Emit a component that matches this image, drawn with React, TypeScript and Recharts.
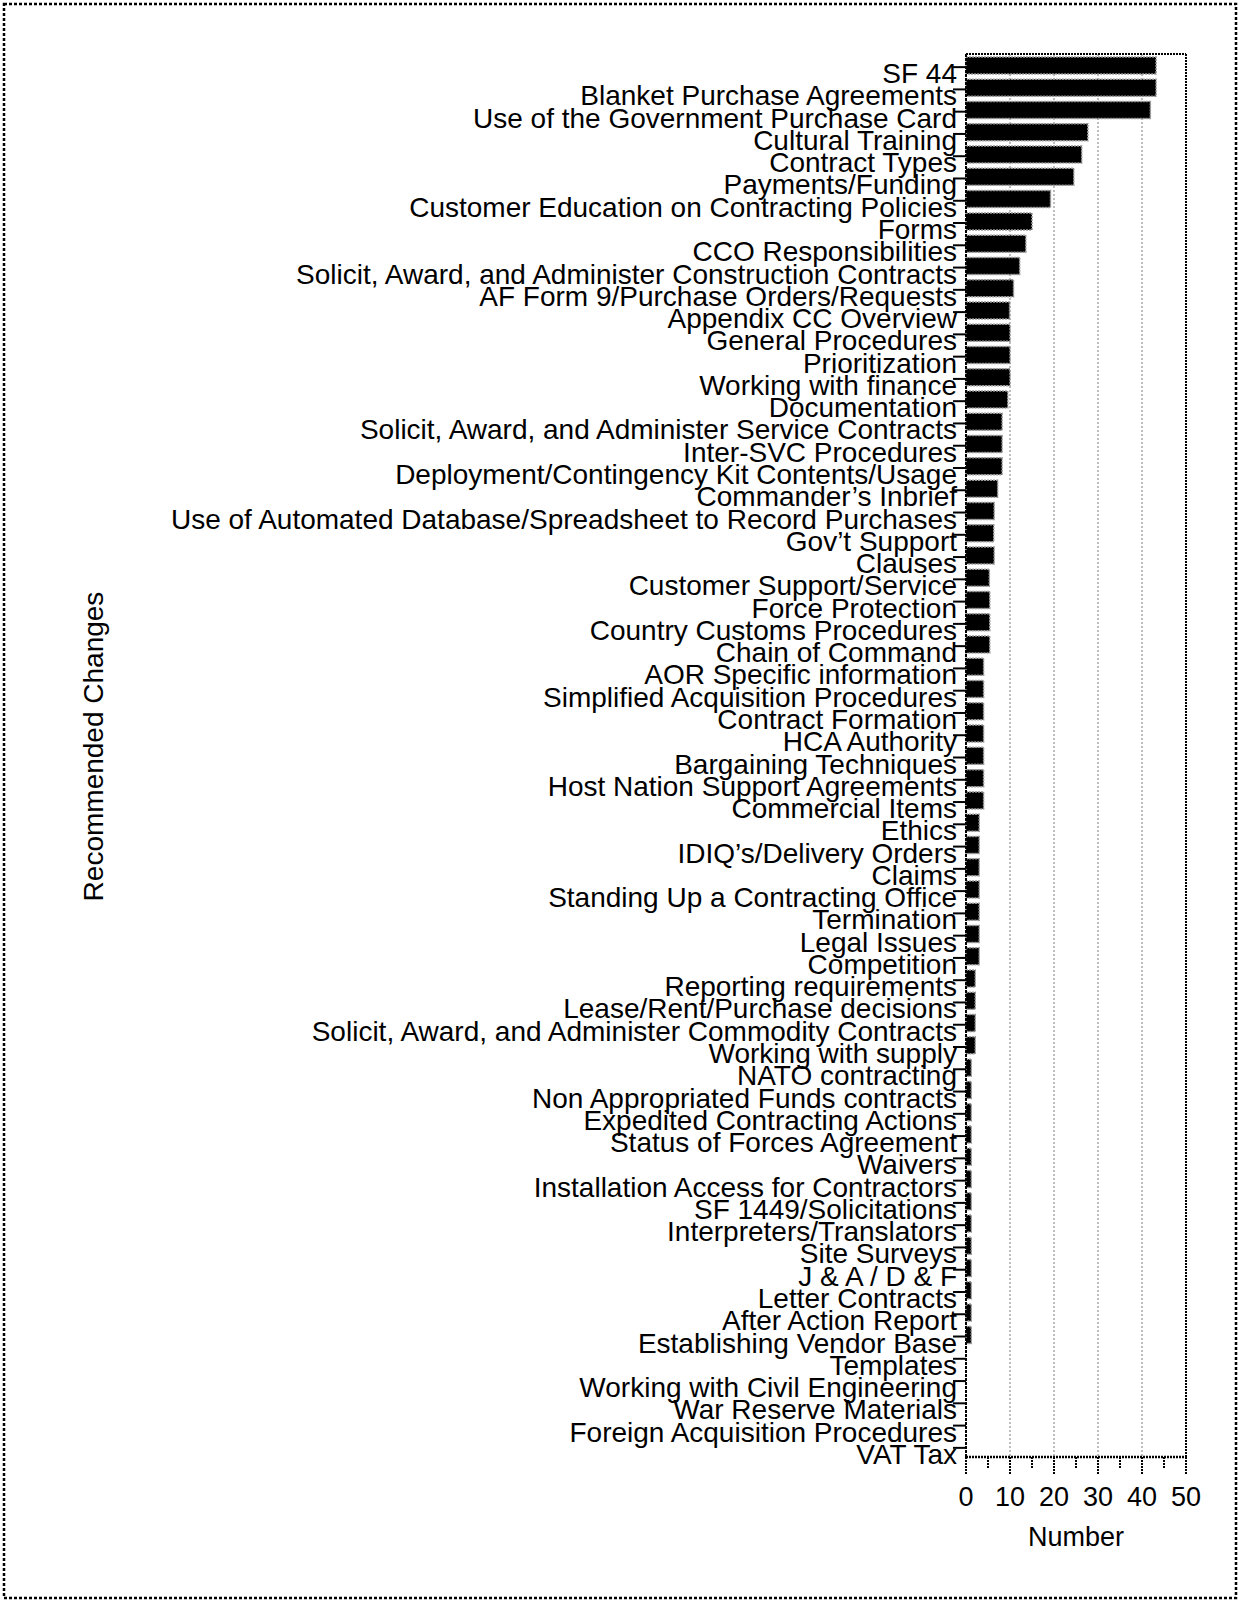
import React from "react";
import { BarChart, Bar, XAxis, YAxis, CartesianGrid, ReferenceLine } from "recharts";

const categories: string[] = [
  "SF 44",
  "Blanket Purchase Agreements",
  "Use of the Government Purchase Card",
  "Cultural Training",
  "Contract Types",
  "Payments/Funding",
  "Customer Education on Contracting Policies",
  "Forms",
  "CCO Responsibilities",
  "Solicit, Award, and Administer Construction Contracts",
  "AF Form 9/Purchase Orders/Requests",
  "Appendix CC Overview",
  "General Procedures",
  "Prioritization",
  "Working with finance",
  "Documentation",
  "Solicit, Award, and Administer Service Contracts",
  "Inter-SVC Procedures",
  "Deployment/Contingency Kit Contents/Usage",
  "Commander\u2019s Inbrief",
  "Use of Automated Database/Spreadsheet to Record Purchases",
  "Gov\u2019t Support",
  "Clauses",
  "Customer Support/Service",
  "Force Protection",
  "Country Customs Procedures",
  "Chain of Command",
  "AOR Specific information",
  "Simplified Acquisition Procedures",
  "Contract Formation",
  "HCA Authority",
  "Bargaining Techniques",
  "Host Nation Support Agreements",
  "Commercial Items",
  "Ethics",
  "IDIQ\u2019s/Delivery Orders",
  "Claims",
  "Standing Up a Contracting Office",
  "Termination",
  "Legal Issues",
  "Competition",
  "Reporting requirements",
  "Lease/Rent/Purchase decisions",
  "Solicit, Award, and Administer Commodity Contracts",
  "Working with supply",
  "NATO contracting",
  "Non Appropriated Funds contracts",
  "Expedited Contracting Actions",
  "Status of Forces Agreement",
  "Waivers",
  "Installation Access for Contractors",
  "SF 1449/Solicitations",
  "Interpreters/Translators",
  "Site Surveys",
  "J & A / D & F",
  "Letter Contracts",
  "After Action Report",
  "Establishing Vendor Base",
  "Templates",
  "Working with Civil Engineering",
  "War Reserve Materials",
  "Foreign Acquisition Procedures",
  "VAT Tax",
];

const values: number[] = [
  43.2, 43.2, 41.9, 27.7, 26.3, 24.5, 19.2, 15, 13.6, 12.2,
  10.8, 9.9, 10, 10, 10, 9.5, 8.2, 8.2, 8.2, 7.2,
  6.4, 6.3, 6.4, 5.3, 5.4, 5.4, 5.4, 4, 4, 4,
  4, 4, 4, 4, 3, 3, 3, 3, 3, 3,
  3, 2.1, 2.1, 2.1, 2.1, 1.2, 1.2, 1.2, 1.2, 1.2,
  1.2, 1.2, 1.2, 1.2, 1.2, 1.2, 1.2, 1.2, 0, 0,
  0, 0, 0,
];

const xTicks: number[] = [0, 5, 10, 15, 20, 25, 30, 35, 40, 45, 50];
const gridValues: number[] = [10, 20, 30, 40];

const data = categories.map((name, i) => ({ name, value: values[i] }));

const FONT = "'Liberation Sans', Arial, Helvetica, sans-serif";

const YTick = (props: any) => {
  const { x, y, payload } = props;
  return (
    <g>
      <line x1={x - 13} x2={x} y1={y + 2} y2={y + 2} stroke="#000" strokeWidth={2} />
      <text x={x - 9} y={y + 18} textAnchor="end" fontSize={28} fontFamily={FONT} fill="#000">
        {payload.value}
      </text>
    </g>
  );
};

const XTick = (props: any) => {
  const { x, y, payload } = props;
  const major = payload.value % 10 === 0;
  return (
    <g>
      <line x1={x} x2={x} y1={y} y2={y + (major ? 18 : 11)} stroke="#000" strokeWidth={2} strokeDasharray="2 1" />
      {major && (
        <text x={x} y={y + 30} dy="0.71em" textAnchor="middle" fontSize={27} fontFamily={FONT} fill="#000">
          {payload.value}
        </text>
      )}
    </g>
  );
};

const XTitle = (props: any) => {
  const vb = props.viewBox || {};
  return (
    <text x={vb.x + vb.width / 2} y={vb.y + 89} textAnchor="middle" fontSize={27} fontFamily={FONT} fill="#000">
      Number
    </text>
  );
};

const YTitle = (props: any) => {
  const vb = props.viewBox || {};
  const cx = vb.x + 103;
  const cy = vb.y + vb.height / 2 - 9;
  return (
    <text x={cx} y={cy} transform={`rotate(-90, ${cx}, ${cy})`} textAnchor="middle" fontSize={28} fontFamily={FONT} fill="#000">
      Recommended Changes
    </text>
  );
};

export default function App() {
  return (
    <div style={{ position: "absolute", left: 0, top: 0, width: 1238, height: 1602, background: "#fff" }}>
      <svg width={1238} height={1602} style={{ position: "absolute", left: 0, top: 0 }}>
        <rect x={4} y={4} width={1232} height={1594} fill="none" stroke="#000" strokeWidth={2.5} strokeDasharray="3 2" />
      </svg>
      <div style={{ position: "absolute", left: 0, top: 0 }}>
        <BarChart
          width={1238}
          height={1602}
          data={data}
          layout="vertical"
          margin={{ top: 53, right: 52, bottom: 85, left: 0 }}
        >
          <CartesianGrid
            horizontal={false}
            vertical={true}
            verticalValues={gridValues}
            stroke="#a8a8a8"
            strokeWidth={1.5}
            strokeDasharray="2 2"
          />
          <XAxis
            xAxisId="top"
            orientation="top"
            type="number"
            domain={[0, 50]}
            height={1}
            tick={false}
            tickLine={false}
            axisLine={{ stroke: "#000", strokeWidth: 2, strokeDasharray: "2 1" }}
          />
          <XAxis
            type="number"
            domain={[0, 50]}
            ticks={xTicks}
            interval={0}
            height={60}
            tickSize={0}
            tickMargin={0}
            tickLine={false}
            tick={XTick}
            axisLine={{ stroke: "#000", strokeWidth: 2.5, strokeDasharray: "2 1" }}
            label={<XTitle />}
          />
          <YAxis
            type="category"
            dataKey="name"
            width={966}
            interval={0}
            tickSize={0}
            tickMargin={0}
            tickLine={false}
            tick={YTick}
            axisLine={{ stroke: "#000", strokeWidth: 2, strokeDasharray: "3 1" }}
            label={<YTitle />}
          />
          <ReferenceLine x={50} stroke="#000" strokeWidth={2} strokeDasharray="2 1" />
          <Bar
            dataKey="value"
            fill="#000"
            stroke="#999"
            strokeWidth={1.5}
            strokeDasharray="2 1"
            barSize={17}
            isAnimationActive={false}
          />
        </BarChart>
      </div>
    </div>
  );
}
